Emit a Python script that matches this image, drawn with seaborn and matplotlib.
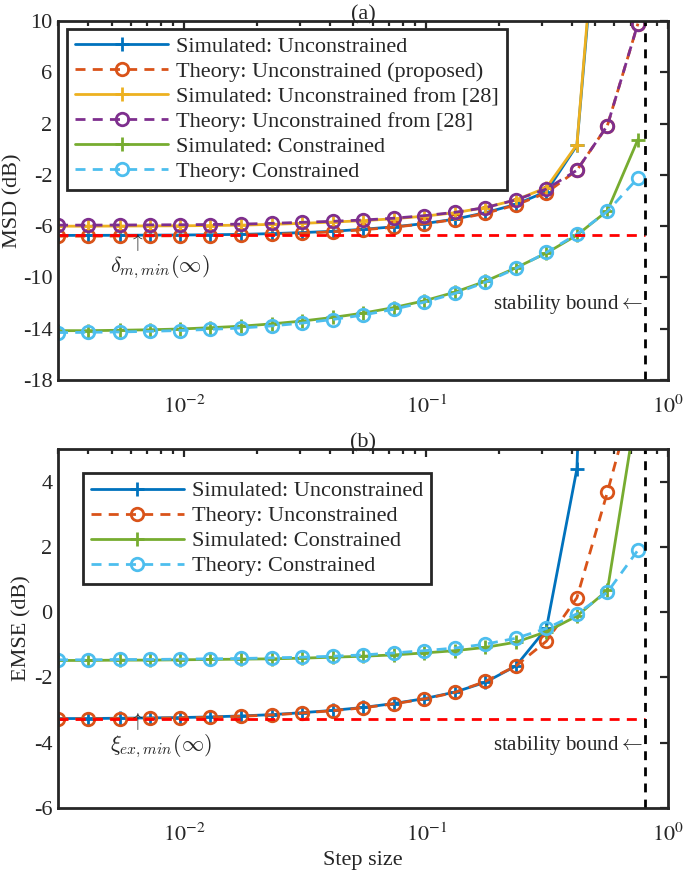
import numpy as np
import matplotlib
matplotlib.use("Agg")
import matplotlib.pyplot as plt
import seaborn as sns

# step sizes (log spaced)
step = [0.0030, 0.0040, 0.0054, 0.0072, 0.0096, 0.0128, 0.0172, 0.0230, 0.0307, 0.0410,
        0.0549, 0.0734, 0.0982, 0.1313, 0.1756, 0.2348, 0.3140, 0.4199, 0.5615, 0.7509]

# (a) MSD in dB
msd_sim_unc = [-6.72, -6.72, -6.71, -6.70, -6.69, -6.67, -6.64, -6.58, -6.50, -6.40,
               -6.24, -6.05, -5.80, -5.45, -4.95, -4.30, -3.30, 0.30, 28.0, 60.0]
msd_th_unc = [-6.78, -6.78, -6.77, -6.76, -6.75, -6.73, -6.70, -6.64, -6.55, -6.44,
              -6.28, -6.08, -5.82, -5.48, -5.00, -4.35, -3.40, -1.64, 1.85, 9.8]
msd_sim_28 = [-6.00, -6.00, -5.99, -5.98, -5.97, -5.95, -5.92, -5.86, -5.78, -5.68,
              -5.57, -5.42, -5.22, -4.95, -4.55, -3.95, -3.00, 0.36, 29.0, 60.0]
msd_th_28 = [-5.92, -5.92, -5.91, -5.90, -5.89, -5.87, -5.84, -5.78, -5.70, -5.62,
             -5.52, -5.38, -5.18, -4.92, -4.55, -3.95, -3.10, -1.64, 1.85, 9.8]
msd_sim_con = [-14.15, -14.15, -14.12, -14.08, -14.02, -13.92, -13.80, -13.62, -13.40, -13.12,
               -12.78, -12.35, -11.82, -11.15, -10.30, -9.25, -8.10, -6.70, -4.80, 0.76]
msd_th_con = [-14.30, -14.28, -14.25, -14.20, -14.14, -14.05, -13.94, -13.78, -13.56, -13.28,
              -12.93, -12.48, -11.93, -11.25, -10.38, -9.30, -8.05, -6.62, -4.85, -2.24]
msd_min = -6.65

# (b) EMSE in dB
emse_sim_unc = [-3.26, -3.26, -3.25, -3.24, -3.23, -3.21, -3.18, -3.14, -3.08, -3.01,
                -2.92, -2.80, -2.65, -2.45, -2.15, -1.65, -0.50, 4.39, 30.0, 60.0]
emse_th_unc = [-3.27, -3.27, -3.26, -3.25, -3.24, -3.22, -3.19, -3.15, -3.09, -3.02,
               -2.93, -2.81, -2.66, -2.46, -2.12, -1.65, -0.89, 0.44, 3.68, 7.1]
emse_sim_con = [-1.48, -1.48, -1.47, -1.47, -1.46, -1.45, -1.44, -1.43, -1.41, -1.38,
                -1.35, -1.31, -1.25, -1.18, -1.08, -0.92, -0.60, -0.12, 0.67, 6.5]
emse_th_con = [-1.46, -1.46, -1.45, -1.45, -1.44, -1.43, -1.42, -1.40, -1.38, -1.35,
               -1.31, -1.25, -1.18, -1.10, -0.98, -0.80, -0.50, -0.05, 0.61, 1.90]
emse_min = -3.27

stab_bound = 0.8
xtick_vals = [1e-2, 1e-1, 1]
xtick_labels = [r"$10^{-2}$", r"$10^{-1}$", r"$10^{0}$"]
msd_ticks = [-18, -14, -10, -6, -2, 2, 6, 10]
emse_ticks = [-6, -4, -2, 0, 2, 4]

labels_a = ["Simulated: Unconstrained", "Theory: Unconstrained (proposed)",
            "Simulated: Unconstrained from [28]", "Theory: Unconstrained from [28]",
            "Simulated: Constrained", "Theory: Constrained"]
labels_b = ["Simulated: Unconstrained", "Theory: Unconstrained",
            "Simulated: Constrained", "Theory: Constrained"]

# matlab default colour order
c_blue, c_orange, c_yellow = "#0072BD", "#D95319", "#EDB120"
c_purple, c_green, c_cyan = "#7E2F8E", "#77AC30", "#4DBEEE"

sns.set_style("white")
plt.rcParams["font.family"] = ["Liberation Serif", "DejaVu Serif"]
plt.rcParams["font.size"] = 16
plt.rcParams["mathtext.fontset"] = "stix"
plt.rcParams["axes.unicode_minus"] = False

fig = plt.figure(figsize=(6.85, 8.73), dpi=100)
ax1 = fig.add_axes([0.0847, 0.5647, 0.8905, 0.4112])
ax2 = fig.add_axes([0.0847, 0.0745, 0.8905, 0.4112])

DASH = (0, (3.6, 2.6))


def draw(ax, y, color, theory):
    if theory:
        sns.lineplot(x=step, y=y, ax=ax, color=color, lw=2, marker="o", ms=9,
                     mfc="none", mec=color, mew=2, linestyle=DASH)
    else:
        sns.lineplot(x=step, y=y, ax=ax, color=color, lw=2, marker="+", ms=10,
                     mec=color, mew=2)
    return ax.lines[-1]


def style_axes(ax, yticks, ylim):
    ax.set_xscale("log")
    ax.set_xlim(0.003, 1)
    ax.set_ylim(*ylim)
    ax.set_yticks(yticks)
    ax.set_yticklabels([str(t) for t in yticks])
    ax.set_xticks(xtick_vals)
    ax.set_xticklabels(xtick_labels)
    ax.tick_params(which="both", direction="in", top=True, right=True, width=1.6, labelsize=16)
    ax.tick_params(which="major", length=6, pad=4)
    ax.tick_params(which="minor", length=3.5)
    ax.tick_params(axis="x", which="major", pad=11)
    for sp in ax.spines.values():
        sp.set_linewidth(2)
        sp.set_color("#262626")


def add_legend(ax, handles, labels, anchor):
    leg = ax.legend(handles, labels, loc="upper left", bbox_to_anchor=anchor,
                    borderaxespad=0, handlelength=4.2, labelspacing=0.2, fontsize=16,
                    frameon=True, fancybox=False, edgecolor="#262626", handletextpad=0.35,
                    borderpad=0.35, framealpha=1)
    leg.get_frame().set_linewidth(2)


# ---- (a) MSD
h = []
h.append(draw(ax1, msd_sim_unc, c_blue, False))
h.append(draw(ax1, msd_th_unc, c_orange, True))
h.append(draw(ax1, msd_sim_28, c_yellow, False))
h.append(draw(ax1, msd_th_28, c_purple, True))
h.append(draw(ax1, msd_sim_con, c_green, False))
h.append(draw(ax1, msd_th_con, c_cyan, True))
ax1.plot([0.003, stab_bound], [msd_min, msd_min], color="red", lw=2, linestyle=DASH)
ax1.axvline(stab_bound, color="black", lw=2, linestyle=(0, (3.2, 2.6)))
style_axes(ax1, msd_ticks, (-18, 10))
ax1.set_ylabel("MSD (dB)", labelpad=0)
ax1.set_xlabel("")
ax1.set_title("(a)", fontsize=16, pad=1)
add_legend(ax1, h, labels_a, (0.015, 0.978))
ax1.text(0.0063, -7.25, r"$\uparrow$", ha="center", va="center", fontsize=14, math_fontfamily="cm")
ax1.text(0.0049, -9.2, r"$\delta_{m,min}(\infty)$", ha="left", va="center", fontsize=16,
         math_fontfamily="cm")
ax1.text(0.785, -12.1, r"stability bound$\leftarrow$", ha="right", va="center", fontsize=15,
         math_fontfamily="cm")

# ---- (b) EMSE
h = []
h.append(draw(ax2, emse_sim_unc, c_blue, False))
h.append(draw(ax2, emse_th_unc, c_orange, True))
h.append(draw(ax2, emse_sim_con, c_green, False))
h.append(draw(ax2, emse_th_con, c_cyan, True))
ax2.plot([0.003, stab_bound], [emse_min, emse_min], color="red", lw=2, linestyle=DASH)
ax2.axvline(stab_bound, color="black", lw=2, linestyle=(0, (3.2, 2.6)))
style_axes(ax2, emse_ticks, (-6, 5))
ax2.set_ylabel("EMSE (dB)", labelpad=2)
ax2.set_xlabel("Step size", labelpad=4)
ax2.set_title("(b)", fontsize=16, pad=1)
add_legend(ax2, h, labels_b, (0.041, 0.933))
ax2.text(0.0063, -3.35, r"$\uparrow$", ha="center", va="center", fontsize=14, math_fontfamily="cm")
ax2.text(0.0049, -4.1, r"$\xi_{ex,min}(\infty)$", ha="left", va="center", fontsize=16,
         math_fontfamily="cm")
ax2.text(0.785, -4.1, r"stability bound$\leftarrow$", ha="right", va="center", fontsize=15,
         math_fontfamily="cm")

fig.savefig("out.png", dpi=100)
